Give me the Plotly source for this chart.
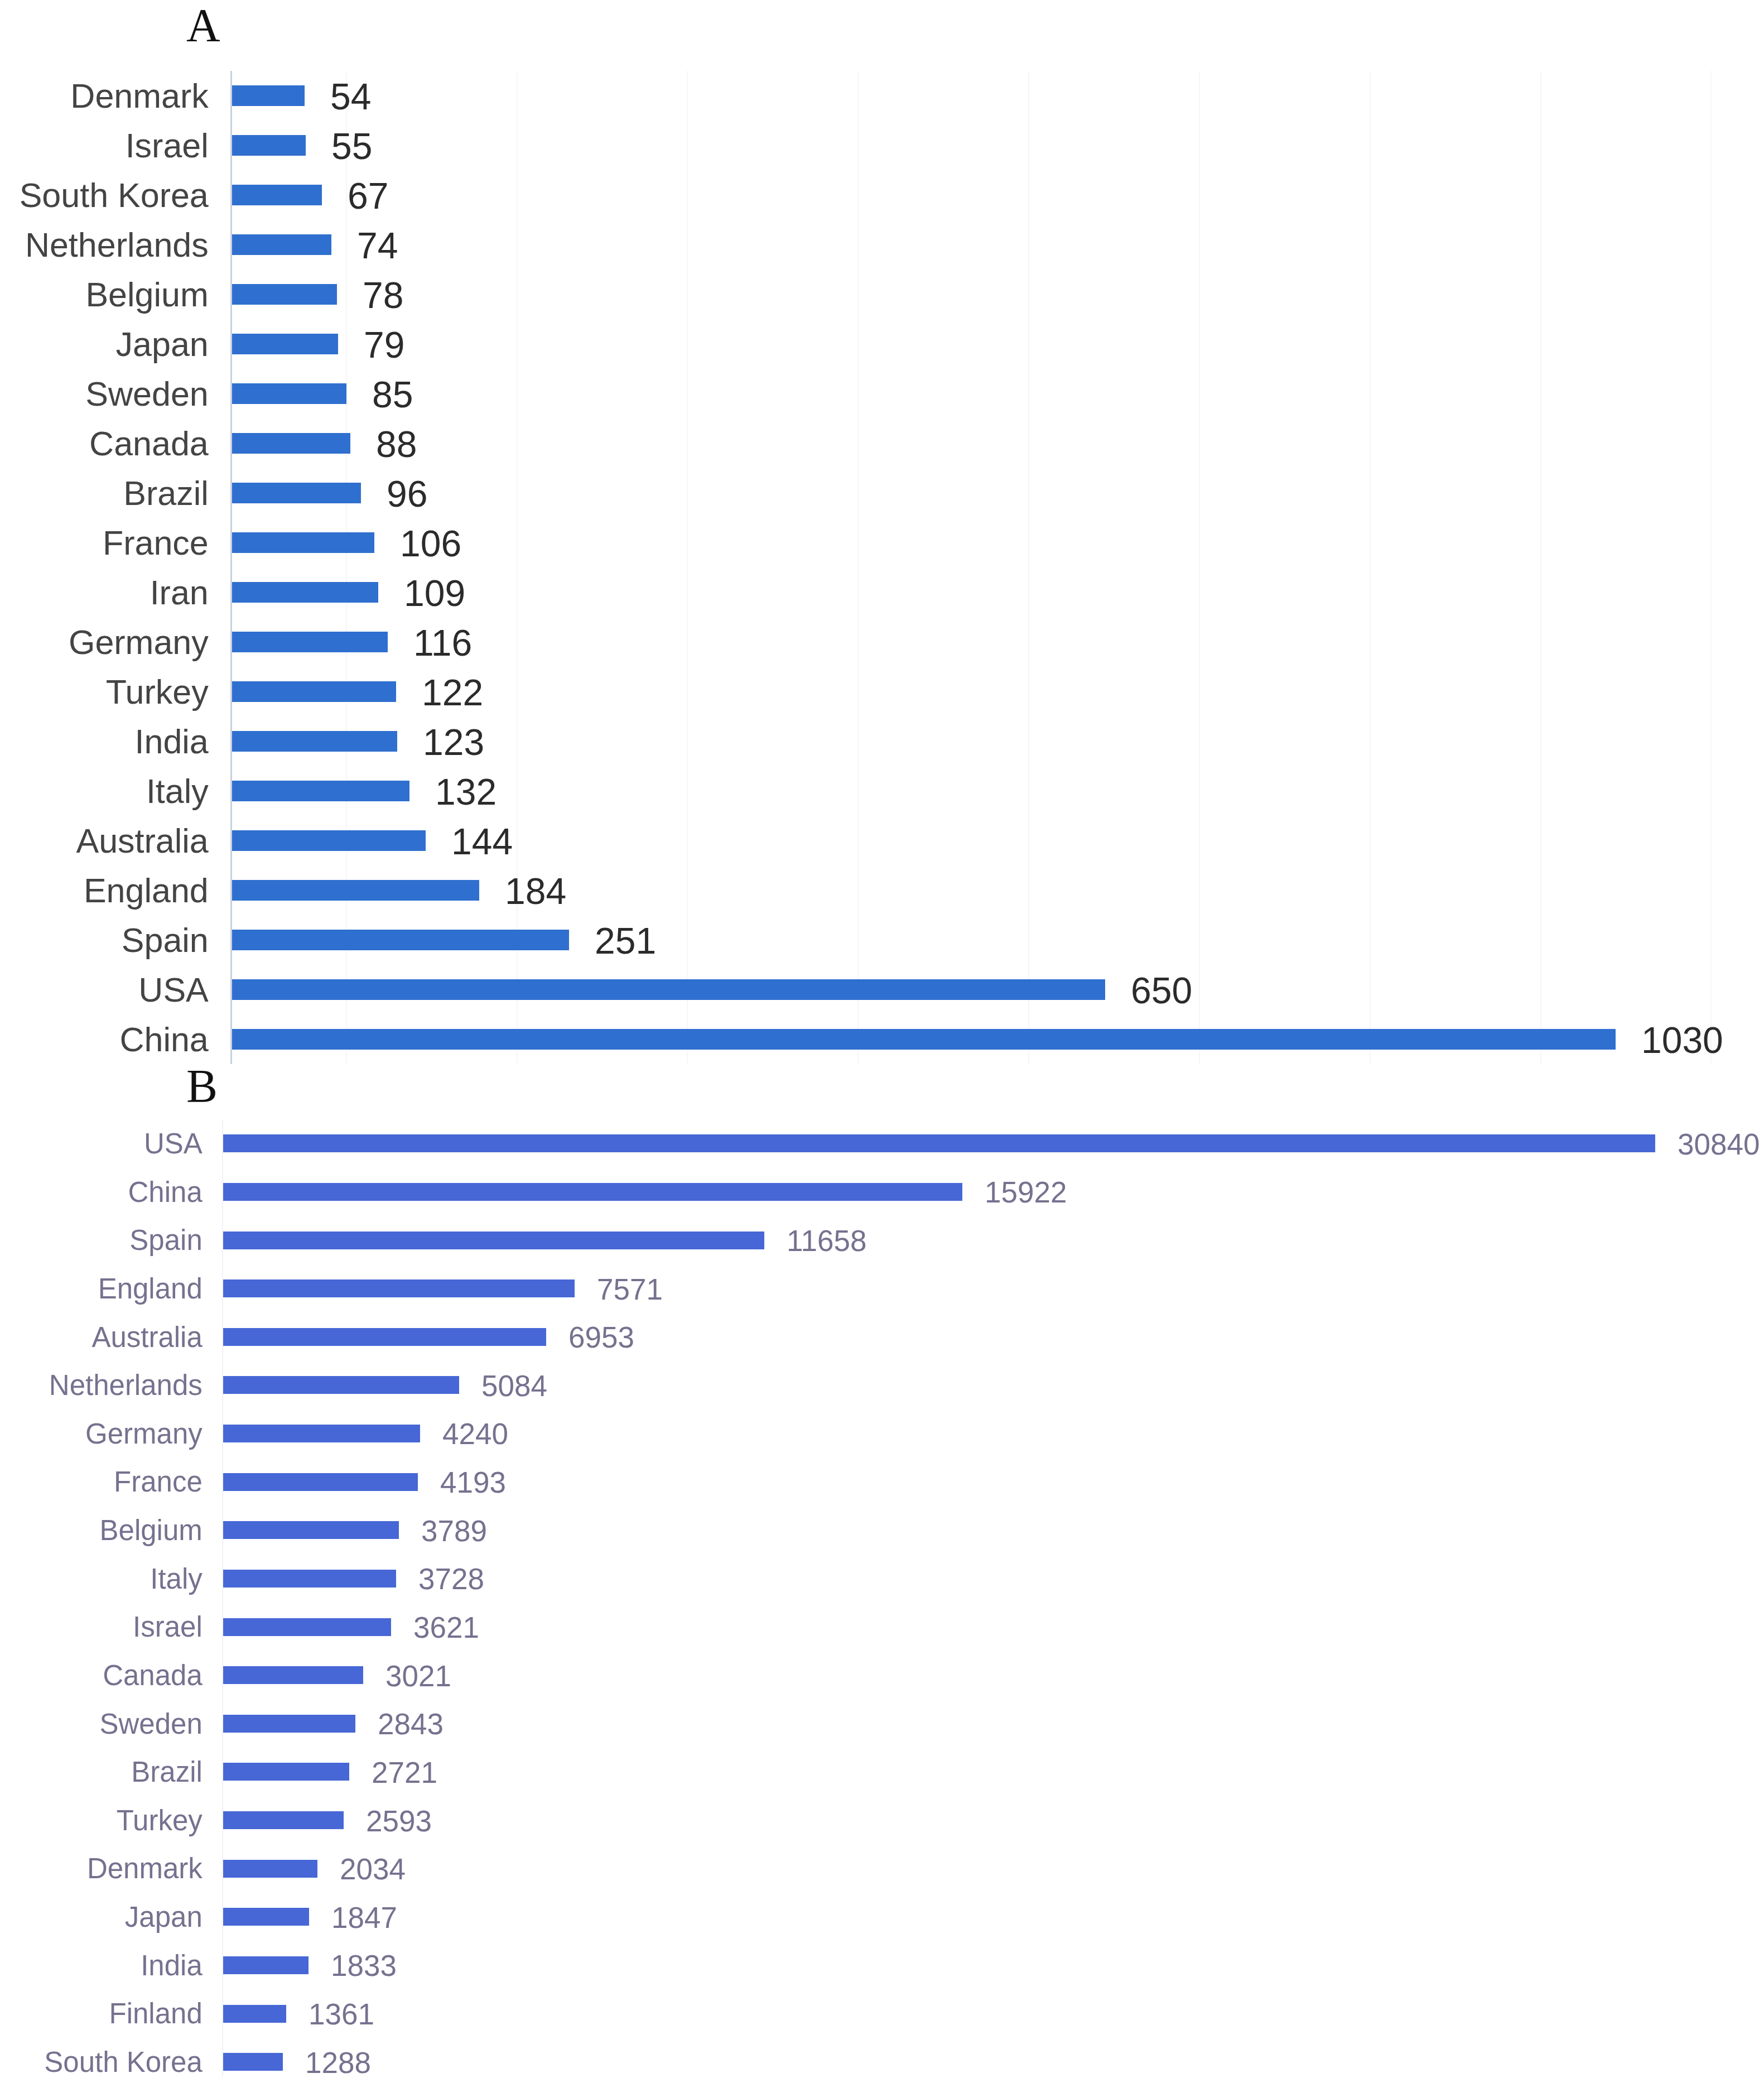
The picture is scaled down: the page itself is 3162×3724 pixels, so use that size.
import plotly.graph_objects as go

# Panel A: number of publications by country
countries_a = ["Denmark", "Israel", "South Korea", "Netherlands", "Belgium", "Japan",
               "Sweden", "Canada", "Brazil", "France", "Iran", "Germany", "Turkey",
               "India", "Italy", "Australia", "England", "Spain", "USA", "China"]
values_a = [54, 55, 67, 74, 78, 79, 85, 88, 96, 106, 109, 116, 122, 123, 132, 144,
            184, 251, 650, 1030]

# Panel B: number of citations by country
countries_b = ["USA", "China", "Spain", "England", "Australia", "Netherlands", "Germany",
               "France", "Belgium", "Italy", "Israel", "Canada", "Sweden", "Brazil",
               "Turkey", "Denmark", "Japan", "India", "Finland", "South Korea"]
values_b = [30840, 15922, 11658, 7571, 6953, 5084, 4240, 4193, 3789, 3728, 3621, 3021,
            2843, 2721, 2593, 2034, 1847, 1833, 1361, 1288]

# the page body keeps its default 8px margin, so the figure is drawn 8px in
OFF = 8
W, H = 3162 - OFF, 3724 - OFF
SANS = "Liberation Sans, Arial, sans-serif"
SERIF = "Liberation Serif, Times New Roman, serif"


def px_x(p):
    return (p - OFF) / W


def px_y(p):
    return 1 - (p - OFF) / H


fig = go.Figure()

fig.add_trace(go.Bar(
    x=values_a, y=countries_a, orientation="h", width=0.42,
    marker=dict(color="#2f6fcf", line=dict(width=0)),
    xaxis="x", yaxis="y", hoverinfo="x+y"))

fig.add_trace(go.Bar(
    x=values_b, y=countries_b, orientation="h", width=0.37,
    marker=dict(color="#4767d6", line=dict(width=0)),
    xaxis="x2", yaxis="y2", hoverinfo="x+y"))

annotations = []
for c, v in zip(countries_a, values_a):
    annotations.append(dict(
        x=v, y=c, xref="x", yref="y", text=str(v), showarrow=False,
        xanchor="left", yanchor="middle", xshift=44, yshift=-2,
        font=dict(family=SANS, size=66, color="#2b2b2b")))
for c, v in zip(countries_b, values_b):
    annotations.append(dict(
        x=v, y=c, xref="x2", yref="y2", text=str(v), showarrow=False,
        xanchor="left", yanchor="middle", xshift=38, yshift=-1,
        font=dict(family=SANS, size=53, color="#77718f")))

annotations.append(dict(
    x=px_x(364), y=px_y(46), xref="paper", yref="paper", text="A", showarrow=False,
    xanchor="center", yanchor="middle",
    font=dict(family=SERIF, size=84, color="#111111")))
annotations.append(dict(
    x=px_x(362), y=px_y(1948), xref="paper", yref="paper", text="B", showarrow=False,
    xanchor="center", yanchor="middle",
    font=dict(family=SERIF, size=84, color="#111111")))

fig.update_layout(
    width=W, height=H,
    margin=dict(l=0, r=0, t=0, b=0),
    paper_bgcolor="white", plot_bgcolor="white",
    showlegend=False,
    bargap=0,
    annotations=annotations,
    xaxis=dict(
        domain=[px_x(416), px_x(3130)], range=[0, 1127],
        showticklabels=False, zeroline=False,
        showgrid=True, gridcolor="#f6f6f6", gridwidth=2,
        tick0=85, dtick=127, anchor="y"),
    yaxis=dict(
        domain=[px_y(1908), px_y(127)], range=[19.5, -0.5],
        showline=True, linecolor="#c9d1dd", linewidth=3,
        ticks="", ticklabelstandoff=27,
        tickfont=dict(family=SANS, size=61, color="#444444"),
        anchor="x"),
    xaxis2=dict(
        domain=[px_x(400), px_x(3130)], range=[0, 32800],
        showticklabels=False, zeroline=False, showgrid=False, anchor="y2"),
    yaxis2=dict(
        domain=[0, px_y(2007)], range=[19.31, -0.5],
        showline=True, linecolor="#f2f2f4", linewidth=2,
        ticks="", ticklabelstandoff=25,
        tickfont=dict(family=SANS, size=51, color="#77718f"),
        anchor="x2"),
)

fig.write_html("out.html")
